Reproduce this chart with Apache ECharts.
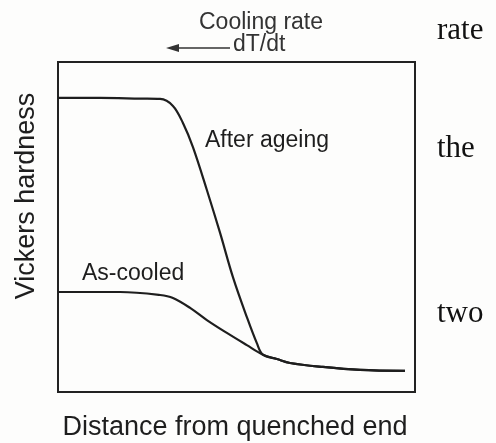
<!DOCTYPE html>
<html>
<head>
<meta charset="utf-8">
<script src="https://cdn.jsdelivr.net/npm/echarts@6/dist/echarts.min.js"></script>
<style>html,body{margin:0;padding:0;background:#fdfdfc;}#c{width:496px;height:443px;}</style>
</head>
<body>
<div id="c"></div>
<script>
// Data (arbitrary units: distance 0-10, hardness 0-10)
var agedX = [0, 1.18, 2.30, 2.86, 3.22, 3.50, 3.78, 4.17, 4.54, 4.90, 5.29, 5.57, 5.74, 6.13, 6.50, 7.42, 8.46, 9.72];
var agedY = [8.91, 8.91, 8.89, 8.88, 8.67, 8.15, 7.42, 6.12, 4.82, 3.48, 2.27, 1.48, 1.13, 1.00, 0.88, 0.76, 0.67, 0.64];
var cooledX = [0, 1.74, 2.86, 3.22, 3.70, 4.17, 4.73, 5.29, 5.74, 6.13, 6.50, 7.42, 8.46, 9.72];
var cooledY = [3.03, 3.03, 2.94, 2.85, 2.55, 2.18, 1.79, 1.42, 1.13, 1.00, 0.88, 0.76, 0.67, 0.64];
var seriesNames = ['After ageing', 'As-cooled'];

function pairs(xs, ys) { return xs.map(function (x, i) { return [x, ys[i]]; }); }

var chart = echarts.init(document.getElementById('c'));
var sans = 'Liberation Sans, Arial, sans-serif';
var serif = 'Liberation Serif, Times New Roman, serif';
var ink = '#1e1e1e';
chart.setOption({
  backgroundColor: '#fdfdfc',
  animation: false,
  grid: { left: 58, top: 62, width: 357, height: 330, show: true, borderColor: '#222', borderWidth: 2, backgroundColor: 'transparent' },
  xAxis: { type: 'value', min: 0, max: 10, show: false },
  yAxis: { type: 'value', min: 0, max: 10, show: false },
  series: [
    { name: seriesNames[0], type: 'line', data: pairs(agedX, agedY), smooth: 0.35, symbol: 'none', lineStyle: { color: ink, width: 2.2 } },
    { name: seriesNames[1], type: 'line', data: pairs(cooledX, cooledY), smooth: 0.35, symbol: 'none', lineStyle: { color: ink, width: 2.2 } }
  ],
  graphic: [
    { type: 'text', left: 199, top: 11, style: { text: 'Cooling rate', font: '23px ' + sans, fill: '#333' } },
    { type: 'text', left: 233, top: 33, style: { text: 'dT/dt', font: '23px ' + sans, fill: '#333' } },
    { type: 'line', shape: { x1: 172, y1: 48, x2: 230, y2: 48 }, style: { stroke: '#333', lineWidth: 1.5 } },
    { type: 'polygon', shape: { points: [[166, 48], [179, 44], [179, 52]] }, style: { fill: '#333' } },
    { type: 'text', left: 205, top: 129, style: { text: seriesNames[0], font: '23px ' + sans, fill: ink } },
    { type: 'text', left: 82, top: 262, style: { text: seriesNames[1], font: '23px ' + sans, fill: ink } },
    { type: 'text', x: 27, y: 196, rotation: Math.PI / 2, style: { text: 'Vickers hardness', font: '27px ' + sans, fill: ink, align: 'center', verticalAlign: 'middle' } },
    { type: 'text', x: 235, y: 428, style: { text: 'Distance from quenched end', font: '27px ' + sans, fill: ink, align: 'center', verticalAlign: 'middle' } },
    { type: 'text', x: 437, y: 31, style: { text: 'rate', font: '31px ' + serif, fill: '#111', verticalAlign: 'middle' } },
    { type: 'text', x: 437, y: 149, style: { text: 'the', font: '31px ' + serif, fill: '#111', verticalAlign: 'middle' } },
    { type: 'text', x: 437, y: 314, style: { text: 'two', font: '31px ' + serif, fill: '#111', verticalAlign: 'middle' } }
  ]
});
</script>
</body>
</html>
